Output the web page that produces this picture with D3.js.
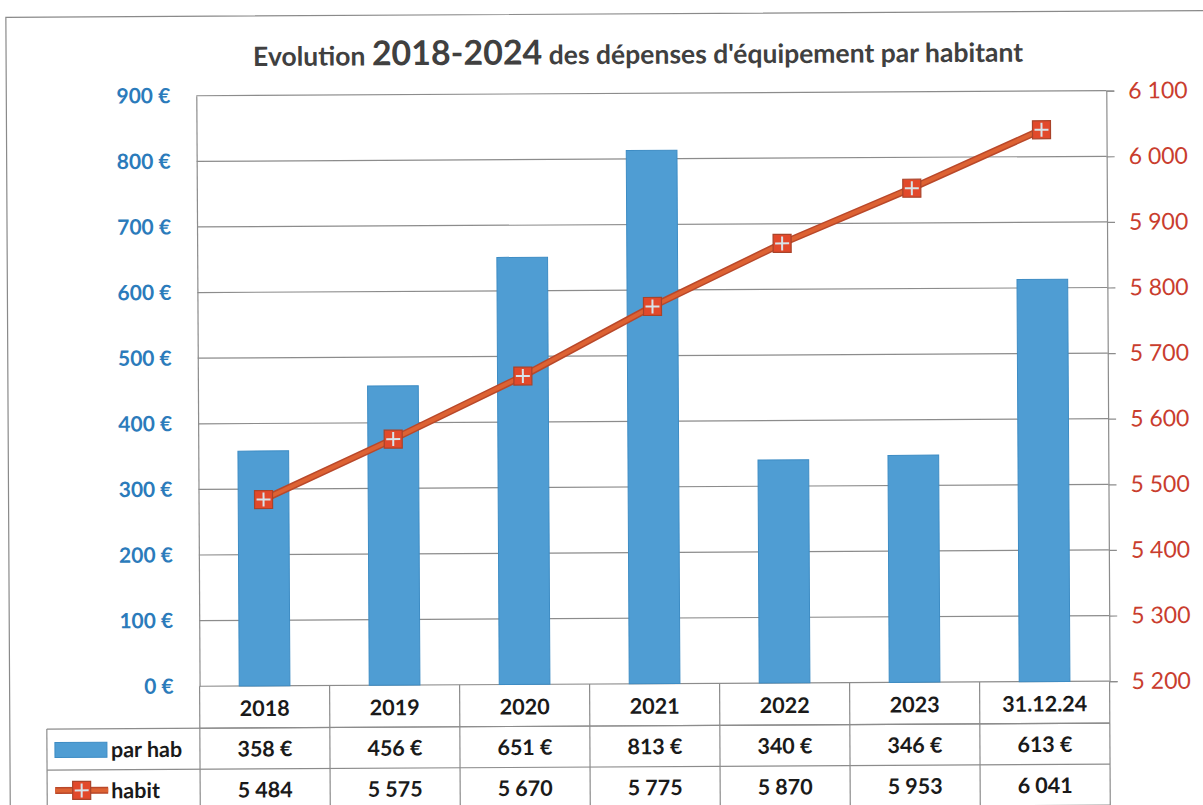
<!DOCTYPE html>
<html><head><meta charset="utf-8">
<script src="https://cdn.jsdelivr.net/npm/d3@7"></script>
<style>html,body{margin:0;padding:0;background:#fff;}svg{display:block;}</style>
</head><body>
<svg id="chart" width="1203" height="805"></svg>
<script>
const categories = ["2018","2019","2020","2021","2022","2023","31.12.24"];
const parHab = [358,456,651,813,340,346,613];
const habit = [5484,5575,5670,5775,5870,5953,6041];
const leftTicks = [0,100,200,300,400,500,600,700,800,900];
const rightTicks = [5200,5300,5400,5500,5600,5700,5800,5900,6000,6100];
const seriesNames = ["par hab","habit"];
const titleParts = ["Evolution ","2018-2024"," des dépenses d'équipement par habitant"];

const loc = d3.formatLocale({decimal:",", thousands:"\u202F", grouping:[3], currency:["","\u00A0€"]});
const fmtN = v => loc.format(",")(v).replace(/\u202F/g," ");
const fmtE = v => v + " €";

const svg = d3.select("#chart");
const g = svg.append("g").attr("transform","rotate(-0.32,600,400)");
const FONT = "Lato, 'Open Sans', sans-serif";

const L = 198, R = 1108, T = 93.5, B = 684;
const rowY = [B, 726, 767, 808];
const tableLeft = 45;

// outer frame
g.append("path").attr("d",`M8,830 L8,14 L1220,14`).attr("fill","none").attr("stroke","#8a8a8a").attr("stroke-width",1.2);

// title
const title = g.append("text").attr("x",640).attr("y",64).attr("text-anchor","middle")
  .attr("font-family",FONT).attr("font-weight","bold").attr("fill","#404040");
title.append("tspan").attr("font-size",26.5).text(titleParts[0]);
title.append("tspan").attr("font-size",34).text(titleParts[1]);
title.append("tspan").attr("font-size",26.5).text(titleParts[2]);

const x = d3.scaleBand().domain(categories).range([L,R]).padding(0);
const yL = d3.scaleLinear().domain([0,900]).range([B,T]);
const yR = d3.scaleLinear().domain([5200,6100]).range([B,T]);

// gridlines
g.append("g").selectAll("line").data(leftTicks).join("line")
  .attr("x1",L).attr("x2",R).attr("y1",d=>yL(d)).attr("y2",d=>yL(d))
  .attr("stroke","#8c8c8c").attr("stroke-width",1.2);

// left axis
const ax = g.append("g").attr("transform",`translate(${L},0)`)
  .call(d3.axisLeft(yL).tickValues(leftTicks).tickFormat(fmtE).tickSize(0).tickPadding(26));
ax.select(".domain").attr("stroke","#8c8c8c").attr("stroke-width",1.2);
ax.selectAll("text").attr("font-family",FONT).attr("font-weight","bold").attr("font-size",21).attr("fill","#2b7bbb");

// right axis
const ar = g.append("g").attr("transform",`translate(${R},0)`)
  .call(d3.axisRight(yR).tickValues(rightTicks).tickFormat(fmtN).tickSize(8).tickPadding(14));
ar.select(".domain").attr("stroke","#8c8c8c").attr("stroke-width",1.2);
ar.selectAll("line").attr("stroke","#8c8c8c").attr("stroke-width",1.2);
ar.selectAll("text").attr("font-family",FONT).attr("font-size",23).attr("fill","#c93d2e");

// bars
const bw = x.bandwidth()*0.39;
g.append("g").selectAll("rect").data(parHab).join("rect")
  .attr("x",(d,i)=>x(categories[i])+x.bandwidth()/2-bw/2)
  .attr("y",d=>yL(d)).attr("width",bw).attr("height",d=>yL(0)-yL(d))
  .attr("fill","#4f9dd3").attr("stroke","#3d8cc4").attr("stroke-width",1);

// line
const cx = i => x(categories[i])+x.bandwidth()/2;
const lineGen = d3.line().x((d,i)=>cx(i)).y(d=>yR(d));
g.append("path").datum(habit).attr("d",lineGen).attr("fill","none")
  .attr("stroke","#b9482a").attr("stroke-width",7).attr("stroke-linejoin","round");
g.append("path").datum(habit).attr("d",lineGen).attr("fill","none")
  .attr("stroke","#dd6233").attr("stroke-width",4).attr("stroke-linejoin","round");

function marker(sel, px, py){
  const s = 18;
  sel.append("rect").attr("x",px-s/2).attr("y",py-s/2).attr("width",s).attr("height",s)
    .attr("fill","#e2492b").attr("stroke","#a9432a").attr("stroke-width",1.2);
  sel.append("line").attr("x1",px-s/2+2).attr("x2",px+s/2-2).attr("y1",py).attr("y2",py)
    .attr("stroke","#d7e4ea").attr("stroke-width",2);
  sel.append("line").attr("y1",py-s/2+2).attr("y2",py+s/2-2).attr("x1",px).attr("x2",px)
    .attr("stroke","#d7e4ea").attr("stroke-width",2);
}
const mg = g.append("g");
habit.forEach((d,i)=>marker(mg, cx(i), yR(d)));

// data table
const tg = g.append("g");
const gridC = "#8c8c8c";
tg.append("line").attr("x1",L).attr("x2",R).attr("y1",rowY[1]).attr("y2",rowY[1]).attr("stroke",gridC).attr("stroke-width",1.2);
[1,2,3].forEach(k=>{
  tg.append("line").attr("x1",tableLeft).attr("x2",R).attr("y1",rowY[k]).attr("y2",rowY[k]).attr("stroke",gridC).attr("stroke-width",1.2);
});
const bounds = categories.map(c=>x(c)).concat([R]);
bounds.forEach(bx=>{
  tg.append("line").attr("x1",bx).attr("x2",bx).attr("y1",rowY[0]).attr("y2",rowY[3]).attr("stroke",gridC).attr("stroke-width",1.2);
});
tg.append("line").attr("x1",tableLeft).attr("x2",tableLeft).attr("y1",rowY[1]).attr("y2",rowY[3]).attr("stroke",gridC).attr("stroke-width",1.2);

const txt = (txtv, tx, ty, anchor) => tg.append("text").attr("x",tx).attr("y",ty)
  .attr("text-anchor",anchor||"middle").attr("dominant-baseline","central")
  .attr("font-family",FONT).attr("font-weight","bold").attr("font-size",21.5).attr("fill","#1a1a1a").text(txtv);

categories.forEach((c,i)=>{
  txt(c, cx(i), (rowY[0]+rowY[1])/2+1);
  txt(fmtE(parHab[i]), cx(i), (rowY[1]+rowY[2])/2);
  txt(fmtN(habit[i]), cx(i), (rowY[2]+rowY[3])/2);
});

const y1 = (rowY[1]+rowY[2])/2, y2 = (rowY[2]+rowY[3])/2;
tg.append("rect").attr("x",53).attr("y",y1-7).attr("width",52).attr("height",15)
  .attr("fill","#4f9dd3").attr("stroke","#3d8cc4");
txt(seriesNames[0], 109, y1, "start");
tg.append("line").attr("x1",53).attr("x2",106).attr("y1",y2).attr("y2",y2).attr("stroke","#b9482a").attr("stroke-width",7);
tg.append("line").attr("x1",53).attr("x2",106).attr("y1",y2).attr("y2",y2).attr("stroke","#dd6233").attr("stroke-width",4);
marker(tg, 79.5, y2);
txt(seriesNames[1], 109, y2, "start");
</script>
</body></html>
